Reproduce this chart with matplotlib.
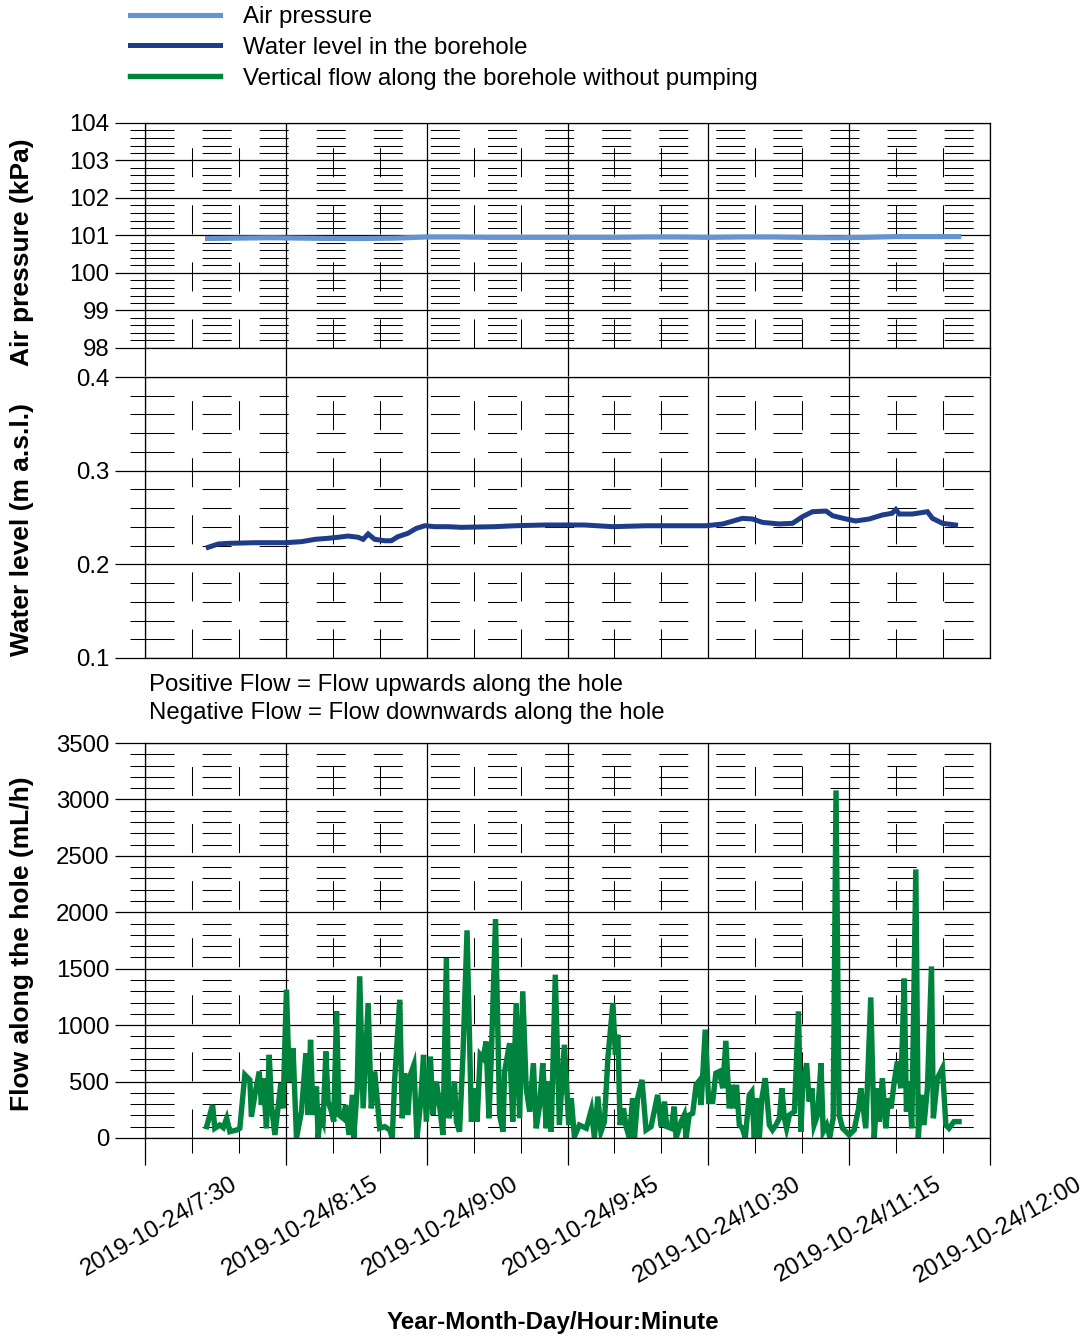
import matplotlib
matplotlib.use('Agg')
import matplotlib.pyplot as plt
import matplotlib.transforms as mtrans
from matplotlib.ticker import MultipleLocator, FixedLocator, FormatStrFormatter

plt.rcParams['font.family'] = ['Liberation Sans', 'DejaVu Sans']
plt.rcParams['lines.scale_dashes'] = False

# ---------------- data (time in minutes after 2019-10-24 7:30) ----------------
x_tick_minutes = [0, 45, 90, 135, 180, 225, 270]
x_tick_labels = ['2019-10-24/7:30', '2019-10-24/8:15', '2019-10-24/9:00',
                 '2019-10-24/9:45', '2019-10-24/10:30', '2019-10-24/11:15',
                 '2019-10-24/12:00']

series_labels = ['Air pressure', 'Water level in the borehole',
                 'Vertical flow along the borehole without pumping']

pressure_t = [20, 30, 40, 50, 60, 70, 80, 90, 100, 110, 120, 130, 140, 150,
              160, 170, 180, 190, 200, 210, 220, 230, 240, 250, 260]
pressure_kpa = [100.92, 100.93, 100.94, 100.93, 100.92, 100.92, 100.93, 100.96,
                100.96, 100.95, 100.95, 100.95, 100.95, 100.95, 100.96, 100.96,
                100.95, 100.96, 100.96, 100.95, 100.94, 100.95, 100.97, 100.97,
                100.97]

level_t = [20.2, 23.4, 26.6, 35.1, 44.7, 50.0, 54.3, 58.5, 61.7, 64.9, 68.1,
           69.7, 71.3, 73.4, 76.6, 78.7, 80.8, 84.0, 86.7, 89.4, 92.6, 96.8,
           101.1, 111.7, 118.1, 127.7, 140.4, 149.5, 160.1, 179.3, 184.6, 190.9,
           194.1, 197.3, 202.7, 206.9, 210.1, 213.3, 217.6, 219.7, 224.0, 227.1,
           231.4, 235.6, 238.7, 239.9, 241.0, 245.2, 250.0, 251.6, 254.8, 259.0]
level_m = [0.2182, 0.2217, 0.2224, 0.2231, 0.2231, 0.2242, 0.2267, 0.2278,
           0.2289, 0.2302, 0.2289, 0.2267, 0.2324, 0.2267, 0.2252, 0.2252,
           0.2295, 0.2331, 0.2384, 0.2412, 0.2402, 0.2402, 0.2395, 0.2402,
           0.2412, 0.2420, 0.2420, 0.2402, 0.2412, 0.2412, 0.2431, 0.2491,
           0.2484, 0.2448, 0.2431, 0.2438, 0.2509, 0.2562, 0.2569, 0.2519,
           0.2484, 0.2463, 0.2484, 0.2527, 0.2545, 0.2585, 0.2537, 0.2537,
           0.2562, 0.2491, 0.2438, 0.2420]

flow_t = [19.7, 21.6, 22.3, 23.9, 25.0, 26.1, 27.1, 29.3, 30.3, 31.9,
          33.5, 34.0, 35.1, 36.5, 37.2, 37.8, 38.8, 39.7, 40.4, 41.5,
          42.6, 43.4, 44.1, 45.2, 46.1, 47.3, 48.4, 50.0, 51.4, 52.1,
          52.9, 53.7, 54.8, 55.3, 56.1, 56.9, 57.8, 58.5, 59.6, 60.3,
          61.2, 62.0, 63.3, 64.1, 65.2, 66.3, 66.7, 67.8, 68.6, 69.7,
          71.3, 72.3, 73.4, 75.0, 76.6, 78.2, 79.0, 79.8,
          81.4, 82.2, 83.0, 84.0, 84.8, 85.9, 86.9, 88.0, 89.0, 89.9,
          91.2, 92.0, 93.1, 94.1, 95.2, 96.3, 97.1, 98.2, 98.9, 99.5,
          100.5, 101.6, 102.9, 104.3, 105.3, 106.1, 107.1, 108.0, 109.0, 109.9,
          110.6, 112.0, 113.3, 114.4, 114.9, 116.5, 117.5, 118.6, 119.7, 120.7,
          121.8, 122.9, 124.1, 125.0, 126.1, 127.1, 128.2, 129.0, 129.8, 131.1,
          132.4, 134.0, 135.4, 136.2, 137.2, 138.8,
          141.0, 142.6, 143.6, 144.7, 145.7, 146.8, 147.9, 149.5, 150.3, 151.1,
          151.8, 152.9, 153.7, 154.8, 155.8, 156.4, 157.4, 158.8, 160.1, 161.7,
          163.8, 164.9, 166.0, 166.7, 168.1, 169.1, 169.7, 171.3, 172.3, 172.9,
          173.9, 175.0, 176.1, 176.9, 177.7, 179.0, 180.1, 181.4, 182.4, 183.5,
          184.6, 185.6, 186.7, 187.6, 188.3, 189.0, 189.9, 190.9, 191.8, 193.1,
          193.9, 194.7, 195.2, 196.3, 197.1, 198.2, 199.5,
          200.5, 201.6, 202.7, 203.5, 204.3, 205.0, 205.9, 207.5, 208.8, 209.6,
          210.1, 211.4, 212.2, 213.1, 213.8, 214.9, 216.0, 216.7, 217.8, 218.8,
          219.9, 220.8, 221.8, 222.9, 224.0, 225.0, 226.6, 228.0, 228.7, 230.3,
          231.9, 233.0, 234.0, 234.6, 235.6, 236.7, 237.6, 238.4, 239.4, 240.4,
          241.5, 242.6, 243.3, 244.1, 245.0, 246.3, 247.1, 247.9, 248.9, 250.0,
          251.3, 251.9, 253.2, 254.8, 255.9, 256.9, 258.5, 260.1]
flow_mlh = [101, 293, 86, 115, 92, 175, 56, 71, 86, 560,
            515, 190, 382, 589, 293, 530, 86, 737, 293, 27,
            293, 485, 263, 1314, 500, 796, 0, 234, 752, 204,
            870, 204, 456, 0, 204, 145, 767, 323, 234, 145,
            1122, 204, 175, 293, 27, 382, 0, 441, 1433, 263,
            1196, 263, 589, 86, 101, 71, 0, 530,
            1225, 175, 574, 204, 560, 648, 0, 293, 737, 145,
            722, 204, 500, 293, 27, 1595, 175, 352, 500, 145,
            56, 737, 1840, 145, 441, 145, 737, 707, 855, 175,
            678, 1940, 204, 56, 589, 840, 145, 1196, 175, 1300,
            441, 234, 663, 86, 293, 663, 86, 500, 56, 1447,
            115, 826, 115, 352, 12, 115,
            86, 249, 0, 367, 56, 145, 707, 1196, 737, 915,
            115, 263, 101, 0, 352, 0, 352, 515, 71, 101,
            382, 101, 323, 101, 86, 278, 0, 145, 204, 0,
            204, 219, 471, 500, 293, 960, 323, 323, 574, 589,
            441, 861, 263, 471, 263, 471, 115, 86, 0, 382,
            411, 0, 352, 0, 352, 530, 115,
            71, 115, 175, 441, 175, 86, 204, 234, 1122, 56,
            441, 663, 323, 441, 115, 204, 663, 56, 115, 12,
            175, 3080, 204, 86, 56, 27, 71, 263, 441, 86,
            1246, 0, 441, 145, 530, 86, 352, 263, 500, 678,
            441, 1412, 234, 500, 86, 2380, 0, 382, 115, 441,
            1520, 175, 530, 619, 115, 86, 145, 145]

# ---------------- figure ----------------
FW, FH = 1086, 1340
fig = plt.figure(figsize=(FW / 100, FH / 100), dpi=100)
L, W = 145 / FW, 845 / FW
ax1 = fig.add_axes([L, 1 - 348 / FH, W, 225 / FH])
ax2 = fig.add_axes([L, 1 - 658 / FH, W, 281 / FH])
ax3 = fig.add_axes([L, 1 - 1138 / FH, W, 395 / FH])

c_press = '#6495D2'
c_level = '#1F3C88'
c_flow = '#00843D'
FS = 17.3
FSY = 19

l1, = ax1.plot(pressure_t, pressure_kpa, color=c_press, lw=3.7, solid_joinstyle='miter')
l2, = ax2.plot(level_t, level_m, color=c_level, lw=3.6, solid_joinstyle='miter')
l3, = ax3.plot(flow_t, flow_mlh, color=c_flow, lw=3.9, solid_joinstyle='miter')

dash = (0, (20.9, 20.2))
for ax, (y0, y1, ymaj, ymin) in zip(
        [ax1, ax2, ax3],
        [(98, 104, 1, 0.2), (0.1, 0.4, 0.1, 0.02), (0, 3500, 500, 100)]):
    ax.set_xlim(0, 270)
    ax.set_ylim(y0, y1)
    ax.xaxis.set_major_locator(FixedLocator(x_tick_minutes))
    ax.xaxis.set_minor_locator(MultipleLocator(15))
    ax.yaxis.set_major_locator(MultipleLocator(ymaj))
    ax.yaxis.set_minor_locator(MultipleLocator(ymin))
    ax.grid(True, which='major', color='black', lw=0.9)
    ax.grid(True, which='minor', color='black', lw=0.75, linestyle=dash)
    for s in ax.spines.values():
        s.set_color('black')
        s.set_linewidth(0.9)
    ax.tick_params(axis='y', which='major', direction='out', length=21.6,
                   width=0.9, labelsize=FS, pad=4)
    ax.tick_params(axis='y', which='minor', direction='out', length=10.8,
                   width=0.75)

ax2.yaxis.set_major_formatter(FormatStrFormatter('%.1f'))

ax1.tick_params(axis='x', which='major', direction='out', length=20.5,
                width=0.9, labelbottom=False)
ax1.tick_params(axis='x', which='minor', length=0)
ax2.tick_params(axis='x', which='both', length=0, labelbottom=False)

ax3.tick_params(axis='x', which='major', direction='out', length=19.4,
                width=0.9, pad=6)
ax3.tick_params(axis='x', which='minor', direction='out', length=10.8, width=0.75)
ax3.set_xticks(x_tick_minutes)
ax3.set_xticklabels(x_tick_labels, rotation=30, ha='right', va='top',
                    rotation_mode='anchor', fontsize=FS)
offset = mtrans.ScaledTranslation(0.85, 0, fig.dpi_scale_trans)
for lab in ax3.get_xticklabels():
    lab.set_transform(lab.get_transform() + offset)

# legend
fig.legend([l1, l2, l3], series_labels, loc='upper left',
           bbox_to_anchor=(130 / FW, 1 - 6 / FH), frameon=False, fontsize=FS,
           handlelength=3.75, handletextpad=0.96, labelspacing=0.37,
           borderpad=0, borderaxespad=0)

# texts
fig.text(149 / FW, 1 - 685 / FH, 'Positive Flow = Flow upwards along the hole',
         va='center', ha='left', fontsize=FS)
fig.text(149 / FW, 1 - 713 / FH, 'Negative Flow = Flow downwards along the hole',
         va='center', ha='left', fontsize=FS)

fig.text(22 / FW, 1 - 252 / FH, 'Air pressure (kPa)', rotation=90,
         ha='center', va='center', fontsize=FSY, fontweight='bold')
fig.text(22 / FW, 1 - 530 / FH, 'Water level (m a.s.l.)', rotation=90,
         ha='center', va='center', fontsize=FSY, fontweight='bold')
fig.text(22 / FW, 1 - 944 / FH, 'Flow along the hole (mL/h)', rotation=90,
         ha='center', va='center', fontsize=FSY, fontweight='bold')
fig.text(553 / FW, 1 - 1322 / FH, 'Year-Month-Day/Hour:Minute',
         ha='center', va='center', fontsize=17.4, fontweight='bold')

fig.savefig('out.png', dpi=100)
